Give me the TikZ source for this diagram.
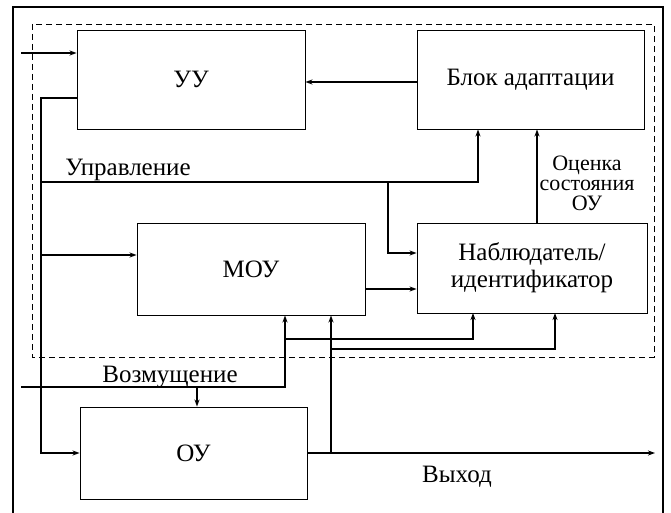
\documentclass[tikz,border=0pt]{standalone}
\usepackage{fontspec}
\setmainfont{Liberation Serif}
\usetikzlibrary{arrows.meta}

\begin{document}
\begin{tikzpicture}[x=1pt, y=-1pt, line width=0.8pt,
    blk/.style={draw, line width=0.9pt, inner sep=0pt, font=\fontsize{25}{27}\selectfont},
    arr/.style={-{Stealth[length=7pt, width=5pt, inset=2pt]}, line width=1.1pt},
    lbl/.style={font=\fontsize{25}{27}\selectfont, align=center, inner sep=0pt}]
  \useasboundingbox (0,0) rectangle (671,513);
  % внешняя рамка (без нижней стороны)
  \draw[line width=1.8pt] (13,513) -- (13,7) -- (663,7) -- (663,513);
  % граница адаптивного регулятора
  \draw[dash pattern=on 6pt off 4pt] (32,24) rectangle (654,357);

  % блоки
  \node[blk, minimum width=228pt, minimum height=99pt] (uu)    at (191,79.5)  {УУ};
  \node[blk, minimum width=227pt, minimum height=99pt] (adapt) at (530.5,79.5) {Блок адаптации};
  \node[blk, minimum width=228pt, minimum height=92pt] (mou)   at (251,269)   {МОУ};
  \node[blk, minimum width=230pt, minimum height=90pt, align=center] (obs) at (532,268) {Наблюдатель/\\идентификатор};
  \node[blk, minimum width=227pt, minimum height=92pt] (ou)    at (193.5,453) {ОУ};

  \coordinate (in)   at (21,53);    % вход задания
  \coordinate (bus)  at (41,98);    % левая шина управления
  \coordinate (ctl)  at (41,182);
  \coordinate (ctlA) at (478,182);
  \coordinate (ctlO) at (388,182);
  \coordinate (mIn)  at (41,255);
  \coordinate (fb)   at (360,82);
  \coordinate (est)  at (537,160);
  \coordinate (mOut) at (390,289);
  \coordinate (dist) at (21,387);
  \coordinate (dM)   at (285,387);
  \coordinate (dO)   at (197,387);
  \coordinate (yM)   at (331,453);
  \coordinate (out)  at (655,453);

  \draw[arr] (in) -- (in -| uu.west);
  \draw[arr] (bus -| uu.west) -- (bus) |- (ou.west);
  \draw[arr] (ctl) -- (ctlA) -- (ctlA |- adapt.south);
  \draw[arr] (ctlO) |- ([yshift=15pt]obs.west);
  \draw[arr] (mIn) -- (mIn -| mou.west);
  \draw[arr] (fb -| adapt.west) -- (fb -| uu.east);
  \draw[arr] (est |- obs.north) -- (est |- adapt.south);
  \draw[arr] (mOut -| mou.east) -- (mOut -| obs.west);

  % возмущение
  \draw[arr] (dist) -- (dM) -- (dM |- mou.south);
  \draw[arr] (dO) -- (dO |- ou.north);
  \draw[arr] (dM |- 0,339) -| (473,313);
  % выход
  \draw[arr] (ou.east) -- (out);
  \draw[arr] (yM) -- (yM |- mou.south);
  \draw[arr] (yM |- 0,349) -| (555,313);

  \node[lbl] (lCtl)  at (128,170) {Управление};
  \node[lbl, font=\fontsize{22}{20}\selectfont] (lEst) at (587,183) {Оценка\\состояния\\ОУ};
  \node[lbl] (lDist) at (170,377) {Возмущение};
  \node[lbl] (lOut)  at (457,477) {Выход};
\end{tikzpicture}
\end{document}
